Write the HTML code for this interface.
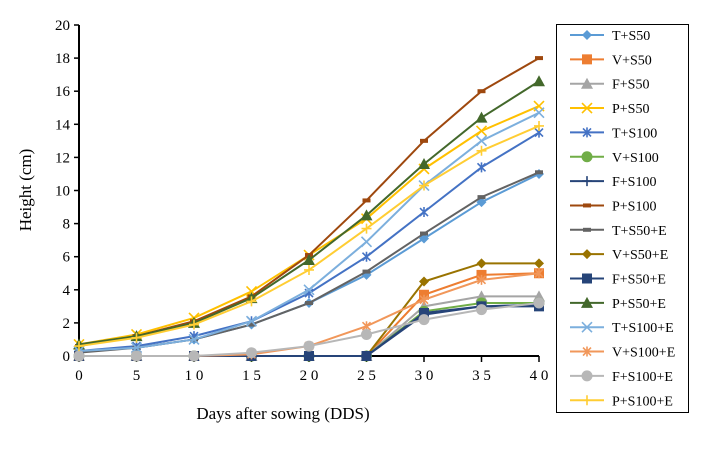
<!DOCTYPE html>
<html><head><meta charset="utf-8"><style>
body{margin:0;background:#fff;}
svg{display:block;font-family:"Liberation Serif",serif;}
</style></head><body>
<svg id="chart" width="723" height="472" viewBox="0 0 723 472" xmlns="http://www.w3.org/2000/svg">
<rect width="723" height="472" fill="#fff"/>
<g id="axes"></g><g id="series"></g><g id="legend"></g>
<text x="0" y="0" transform="translate(31,190) rotate(-90)" text-anchor="middle" font-size="17">Height (cm)</text>
<text x="283" y="419" text-anchor="middle" font-size="17">Days after sowing (DDS)</text>
</svg>
<script>
const days=[0,5,10,15,20,25,30,35,40];
const yTicks=[0,2,4,6,8,10,12,14,16,18,20];
const xTickLabels=["0","5","1 0","1 5","2 0","2 5","3 0","3 5","4 0"];
const seriesNames=["T+S50","V+S50","F+S50","P+S50","T+S100","V+S100","F+S100","P+S100","T+S50+E","V+S50+E","F+S50+E","P+S50+E","T+S100+E","V+S100+E","F+S100+E","P+S100+E"];
const tS50=[0.3,0.5,1.0,1.9,3.2,4.9,7.1,9.3,11.0];
const vS50=[0,0,0,0,0,0,3.7,4.9,5.0];
const fS50=[0,0,0,0,0,0,3.0,3.6,3.6];
const pS50=[0.7,1.3,2.3,3.9,6.1,8.3,11.3,13.6,15.1];
const tS100=[0.3,0.6,1.2,2.1,3.8,6.0,8.7,11.4,13.5];
const vS100=[0,0,0,0,0,0,2.7,3.2,3.2];
const fS100=[0,0,0,0,0,0,2.5,3.0,3.1];
const pS100=[0.6,1.2,2.1,3.6,6.1,9.4,13.0,16.0,18.0];
const tS50E=[0.2,0.5,1.0,1.9,3.2,5.1,7.4,9.6,11.1];
const vS50E=[0,0,0,0,0,0,4.5,5.6,5.6];
const fS50E=[0,0,0,0,0,0,2.6,3.0,3.0];
const pS50E=[0.7,1.2,2.0,3.5,5.8,8.5,11.6,14.4,16.6];
const tS100E=[0.3,0.5,1.0,2.1,4.0,6.9,10.3,13.0,14.7];
const vS100E=[0,0,0,0.1,0.6,1.8,3.4,4.6,5.0];
const fS100E=[0,0,0,0.2,0.6,1.3,2.2,2.8,3.2];
const pS100E=[0.6,1.1,1.9,3.3,5.2,7.7,10.3,12.4,13.9];
const allValues=[tS50,vS50,fS50,pS50,tS100,vS100,fS100,pS100,tS50E,vS50E,fS50E,pS50E,tS100E,vS100E,fS100E,pS100E];
const colors=["#5B9BD5","#ED7D31","#A5A5A5","#FFC000","#4472C4","#70AD47","#264478","#9E480E","#636363","#997300","#264478","#43682B","#7CAFDD","#F1975A","#B7B7B7","#FFCD33"];
const markers=["diamond","square","triangle","x","star","circle","plus","dash","dash","diamond","square","triangle","x","star","circle","plus"];

const NS="http://www.w3.org/2000/svg";
const X0=79,X1=539,Y0=356,Y1=25;
const xs=d=>X0+(d-0)/40*(X1-X0);
const ys=v=>Y0-(v/20)*(Y0-Y1);
function mk(tag,attrs,parent){const e=document.createElementNS(NS,tag);for(const k in attrs)e.setAttribute(k,attrs[k]);parent.appendChild(e);return e;}
const axes=document.getElementById('axes');
const yAxis=mk('line',{x1:X0,y1:Y0,x2:X0,y2:Y1,stroke:'#000','stroke-width':2},axes);


const xAxis=mk('line',{x1:X0,y1:Y0,x2:X1,y2:Y0,stroke:'#000','stroke-width':2},axes);


yTicks.forEach(t=>{
  mk('line',{x1:X0-5,y1:ys(t),x2:X0,y2:ys(t),stroke:'#000','stroke-width':1.5},axes);
  const tx=mk('text',{x:X0-9,y:ys(t)+5,'text-anchor':'end','font-size':15},axes);
  tx.textContent=t;
  
  
});
days.forEach((d,i)=>{
  mk('line',{x1:xs(d),y1:Y0,x2:xs(d),y2:Y0+6,stroke:'#000','stroke-width':1.5},axes);
  const tx=mk('text',{x:xs(d),y:Y0+24,'text-anchor':'middle','font-size':15},axes);
  tx.textContent=xTickLabels[i];
  
  
});
function marker(g,type,x,y,c,s){
  s=s||1;
  switch(type){
    case 'diamond':mk('polygon',{points:`${x},${y-5*s} ${x+5*s},${y} ${x},${y+5*s} ${x-5*s},${y}`,fill:c},g);break;
    case 'square':mk('rect',{x:x-5*s,y:y-5*s,width:10*s,height:10*s,fill:c},g);break;
    case 'triangle':mk('polygon',{points:`${x},${y-6*s} ${x+6*s},${y+5*s} ${x-6*s},${y+5*s}`,fill:c},g);break;
    case 'circle':mk('circle',{cx:x,cy:y,r:5.5*s,fill:c},g);break;
    case 'x':mk('path',{d:`M${x-5*s},${y-5*s}L${x+5*s},${y+5*s}M${x+5*s},${y-5*s}L${x-5*s},${y+5*s}`,stroke:c,'stroke-width':1.6,fill:'none'},g);break;
    case 'star':mk('path',{d:`M${x-4*s},${y-4*s}L${x+4*s},${y+4*s}M${x+4*s},${y-4*s}L${x-4*s},${y+4*s}M${x},${y-5*s}L${x},${y+5*s}`,stroke:c,'stroke-width':1.6,fill:'none'},g);break;
    case 'plus':mk('path',{d:`M${x-5*s},${y}L${x+5*s},${y}M${x},${y-5*s}L${x},${y+5*s}`,stroke:c,'stroke-width':1.6,fill:'none'},g);break;
    case 'dash':mk('rect',{x:x-4*s,y:y-2,width:8*s,height:4,fill:c},g);break;
  }
}
const sg=document.getElementById('series');
allValues.forEach((vals,si)=>{
  const g=mk('g',{},sg);
  
  
  mk('polyline',{points:vals.map((v,i)=>xs(days[i])+','+ys(v)).join(' '),fill:'none',stroke:colors[si],'stroke-width':2},g);
  vals.forEach((v,i)=>marker(g,markers[si],xs(days[i]),ys(v),colors[si]));
});
const lg=document.getElementById('legend');
const box=mk('rect',{x:556.5,y:24.5,width:132,height:388,fill:'#fff',stroke:'#000','stroke-width':1},lg);


seriesNames.forEach((n,i)=>{
  const y=35+i*24.35;
  const g=mk('g',{},lg);
  
  
  mk('line',{x1:570,y1:y,x2:604,y2:y,stroke:colors[i],'stroke-width':2},g);
  marker(g,markers[i],587,y,colors[i]);
  const t=mk('text',{x:612,y:y+5,'font-size':14},g);
  t.textContent=n;
});
</script>
</body></html>
